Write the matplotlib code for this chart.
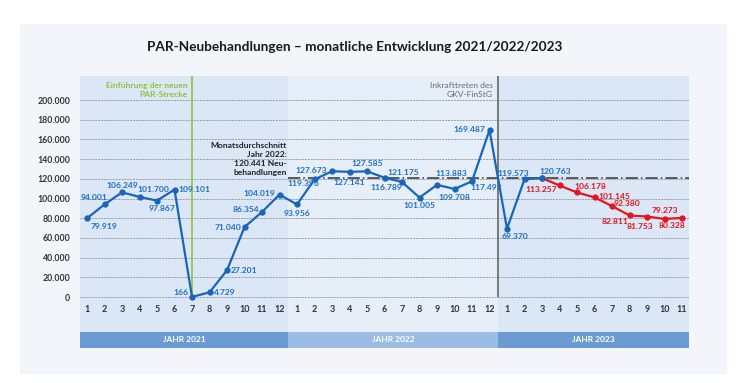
import matplotlib
matplotlib.use("Agg")
from matplotlib import pyplot as plt
from matplotlib.patches import Rectangle

plt.rcParams['font.family'] = ['Lato', 'DejaVu Sans']

# Daten: PAR-Neubehandlungen pro Monat
months_2021 = list(range(1, 13))
months_2022 = list(range(1, 13))
months_2023 = list(range(1, 12))
vals_2021 = [79919, 94001, 106249, 101700, 97867, 109101, 166, 4729, 27201, 71040, 86354, 104019]
vals_2022 = [93956, 119396, 127673, 127141, 127585, 121175, 116789, 101005, 113883, 109708, 117493, 169487]
vals_2023_blue = [69370, 119573, 120763]
vals_2023_red = [113257, 106178, 101145, 92380, 82811, 81753, 79273, 80328]
avg_2022 = 120441
year_labels = ["JAHR 2021", "JAHR 2022", "JAHR 2023"]
y_ticks = list(range(0, 200001, 20000))

title = "PAR-Neubehandlungen – monatliche Entwicklung 2021/2022/2023"

# Label-Versatz in Pixeln (dx, dy, ha)
offs_blue = [(4, -8, 'left'), (3, 7, 'right'), (0, 7, 'center'), (-2, 7, 'left'),
             (5, -8, 'center'), (4, 0, 'left'), (-4, 4, 'right'), (4, 0, 'left'),
             (4, 0, 'left'), (-3, 0, 'right'), (-3, 2, 'right'), (-4, 1, 'right'),
             (0, -9, 'center'), (-11, -4, 'center'), (-5, 1, 'right'), (0, -11, 'center'),
             (0, 8, 'center'), (3, 5, 'left'), (0, -6, 'right'), (0, -8, 'center'),
             (-2, 11, 'left'), (0, -9, 'center'), (-2, -6, 'left'), (-4, 1, 'right'),
             (-5, -8, 'left'), (5, 6, 'right'), (-3, 7, 'left')]
offs_red = [(-3, -4, 'right'), (-3, 6, 'left'), (4, 1, 'left'), (2, 3, 'left'),
            (-1, -6, 'right'), (-7, -10, 'center'), (0, 8, 'center'), (3, -8, 'right')]

BLUE = "#1766b9"
BLUE_TXT = "#1f6fc2"
RED = "#e3151d"
LBL = 6.1


def fmt(v):
    return f"{v:,}".replace(",", ".")


fig = plt.figure(figsize=(7.5, 3.83), dpi=100)
fig.patch.set_facecolor("white")
fig.patches.append(Rectangle((20 / 750, 9 / 383), 707 / 750, 350 / 383,
                             transform=fig.transFigure, facecolor="#f3f5fa",
                             edgecolor="none", zorder=-10))

ax = fig.add_axes([80 / 750, 51 / 383, 609 / 750, 256 / 383])
ax.set_xlim(-0.4, 34.4)
ax.set_ylim(-35500, 224400)
for s in ax.spines.values():
    s.set_visible(False)

# Hintergrund je Jahr
ax.axvspan(-0.4, 11.5, color="#dbe7f6", lw=0, zorder=0)
ax.axvspan(11.5, 23.5, color="#e6eef9", lw=0, zorder=0)
ax.axvspan(23.5, 34.4, color="#dbe7f6", lw=0, zorder=0)

for y in y_ticks:
    ax.axhline(y, color="#9a9ea6", lw=0.7, ls=(0, (2, 1)), zorder=1)

ax.set_xticks([])
ax.set_yticks(y_ticks)
ax.set_yticklabels([fmt(y) for y in y_ticks], fontsize=6.3, fontweight="bold", color="#333333")
ax.tick_params(axis="y", length=0, pad=7)

# Monats-Beschriftungen
all_months = months_2021 + months_2022 + months_2023
for i, m in enumerate(all_months):
    ax.text(i, -12200, str(m), ha="center", va="center", fontsize=6.5,
            fontweight="bold", color="#333333")

# Vertikale Markierungen
ax.vlines(6, 0, 224400, color="#8cc43c", lw=1.2, zorder=2)
ax.vlines(23.5, 0, 224400, color="#666666", lw=1.2, zorder=2)
ax.text(5.77, 218000, "Einführung der neuen\nPAR-Strecke", ha="right", va="top",
        fontsize=6.1, color="#8cc43c", fontweight="bold", linespacing=1.3)
ax.text(23.2, 218000, "Inkrafttreten des\nGKV-FinStG", ha="right", va="top",
        fontsize=6.1, color="#6a6a6a", linespacing=1.3)

# Durchschnitt 2022
ax.hlines(avg_2022, 11.5, 34.4, color="#333333", lw=1.1, ls=(0, (8, 2, 1, 2)), zorder=2)
ax.text(11.43, 157000, "Monatsdurchschnitt\nJahr 2022:\n120.441 Neu-\nbehandlungen",
        ha="right", va="top", fontsize=6.1, fontweight="bold", color="#222222",
        linespacing=1.3)

# Datenreihen
blue_vals = vals_2021 + vals_2022 + vals_2023_blue
blue_x = list(range(len(blue_vals)))
red_x = list(range(len(blue_vals) - 1, len(blue_vals) + len(vals_2023_red)))
red_vals = [vals_2023_blue[-1]] + vals_2023_red

ax.plot(red_x, red_vals, color=RED, lw=1.6, marker="o", ms=3.5, zorder=3)
ax.plot(blue_x, blue_vals, color=BLUE, lw=1.6, marker="o", ms=3.5, zorder=4)

for x, v, (dx, dy, ha) in zip(blue_x, blue_vals, offs_blue):
    ax.annotate(fmt(v), (x, v), xytext=(dx, dy), textcoords="offset pixels",
                ha=ha, va="center", fontsize=LBL, fontweight="bold", color=BLUE_TXT, zorder=5)
for x, v, (dx, dy, ha) in zip(red_x[1:], vals_2023_red, offs_red):
    ax.annotate(fmt(v), (x, v), xytext=(dx, dy), textcoords="offset pixels",
                ha=ha, va="center", fontsize=LBL, fontweight="bold", color=RED, zorder=5)

# Jahresband
band = fig.add_axes([80 / 750, 35 / 383, 609 / 750, 16 / 383])
band.set_xlim(-0.4, 34.4)
band.set_ylim(0, 1)
band.axis("off")
spans = [(-0.4, 11.5, "#6a9bd3"), (11.5, 23.5, "#9bbde3"), (23.5, 34.4, "#6a9bd3")]
for (a, b, c), lab in zip(spans, year_labels):
    band.axvspan(a, b, color=c, lw=0)
    band.text((a + b) / 2, 0.5, lab, ha="center", va="center", fontsize=6,
              fontweight="bold", color="white")

fig.text(355 / 750, 1 - 47 / 383, title, ha="center", va="center", fontsize=9.8,
         fontweight="bold", color="#1a1a1a")

fig.savefig("out.png", dpi=100)
